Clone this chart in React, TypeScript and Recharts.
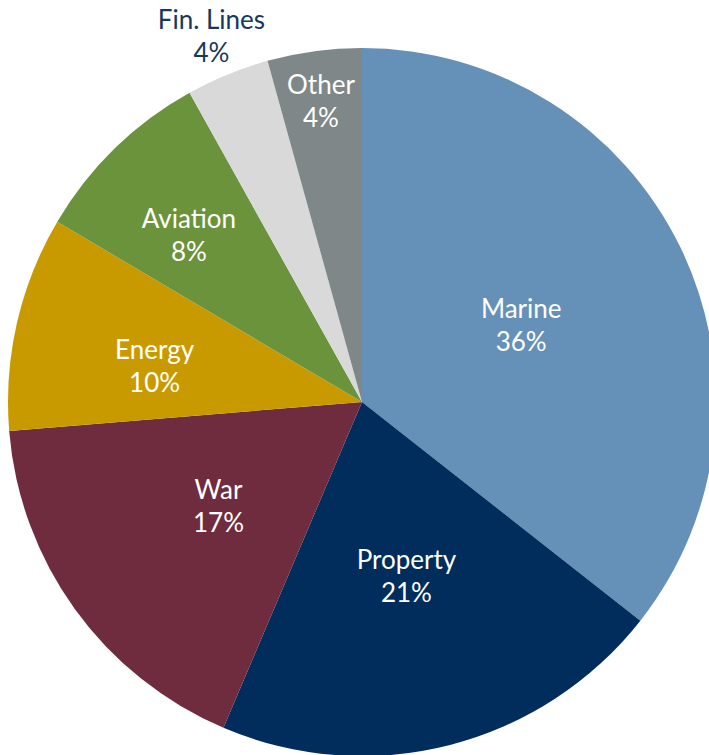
import { Cell, Pie, PieChart } from "recharts";

const categories = ["Marine", "Property", "War", "Energy", "Aviation", "Fin. Lines", "Other"];
const shares = [35.6, 20.8, 17.3, 9.8, 8.4, 3.8, 4.3];

const data = categories.map((name, i) => ({ name, value: shares[i] }));

const COLORS: Record<string, string> = {
  Marine: "#6591b8",
  Property: "#002d5b",
  War: "#6e2c3e",
  Energy: "#c99a00",
  Aviation: "#6a933b",
  "Fin. Lines": "#d9d9d9",
  Other: "#7f8788",
};

// label placement: fraction of the radius, plus a small angle nudge (degrees)
const LABEL_RADIUS: Record<string, number> = {
  Marine: 0.5,
  Property: 0.505,
  War: 0.5,
  Energy: 0.595,
  Aviation: 0.68,
  "Fin. Lines": 1.12,
  Other: 0.86,
};
const LABEL_NUDGE: Record<string, number> = {
  Energy: 2.9,
  Aviation: 1.7,
};

const RAD = Math.PI / 180;

function renderLabel(props: any) {
  const { cx, cy, midAngle, outerRadius, name, value } = props;
  const r = outerRadius * (LABEL_RADIUS[name] ?? 0.5);
  const a = midAngle + (LABEL_NUDGE[name] ?? 0);
  const x = cx + r * Math.cos(-a * RAD);
  const y = cy + r * Math.sin(-a * RAD);
  const fill = name === "Fin. Lines" ? "#17375e" : "#ffffff";
  return (
    <text
      x={x}
      y={y}
      fill={fill}
      textAnchor="middle"
      fontFamily="Lato, 'Open Sans', sans-serif"
      fontSize={26}
    >
      <tspan x={x} y={y - 16.5} dominantBaseline="central">
        {name}
      </tspan>
      <tspan x={x} y={y + 16.5} dominantBaseline="central">
        {Math.round(value)}%
      </tspan>
    </text>
  );
}

export default function App() {
  return (
    <>
      <style>{"body{margin:0;overflow:hidden}"}</style>
      <PieChart width={709} height={755} margin={{ top: 0, right: 0, bottom: 0, left: 0 }}>
        <Pie
          data={data}
          dataKey="value"
          nameKey="name"
          cx={362}
          cy={402}
          outerRadius={354}
          startAngle={90}
          endAngle={-270}
          stroke="none"
          labelLine={false}
          label={renderLabel}
          isAnimationActive={false}
        >
          {data.map((d) => (
            <Cell key={d.name} fill={COLORS[d.name]} />
          ))}
        </Pie>
      </PieChart>
    </>
  );
}
